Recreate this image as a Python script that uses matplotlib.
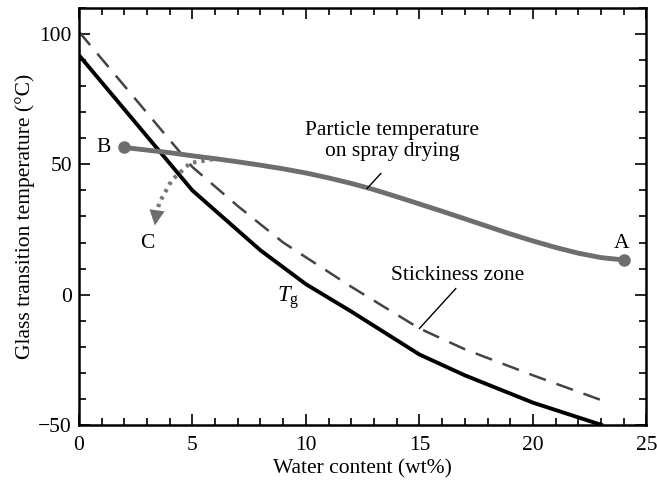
import numpy as np
import matplotlib
matplotlib.use("Agg")
import matplotlib.pyplot as plt
from matplotlib.ticker import MultipleLocator

plt.rcParams['font.family'] = ['Liberation Serif', 'DejaVu Serif']
plt.rcParams['mathtext.fontset'] = 'custom'
plt.rcParams['mathtext.it'] = 'Liberation Serif:italic'
plt.rcParams['mathtext.rm'] = 'Liberation Serif'

# glass transition curve (Tg)
tg_x = [0, 5, 8, 10, 12, 15, 17, 20, 23]
tg_y = [92, 40, 17, 4, -6.5, -23, -31, -41.5, -50]

# stickiness zone boundary (dashed)
st_x = [0, 5, 7, 9, 12, 15, 17, 20, 23]
st_y = [101, 49, 34, 20, 3, -13, -21, -31, -40.5]

# particle temperature on spray drying
pt_x = [2, 3, 4, 5, 6, 7, 8, 9, 10, 11, 12, 13, 14, 15, 16, 17, 18, 19,
        20, 21, 22, 23, 24]
pt_y = [56.5, 55.5, 54.5, 53.3, 52.2, 51, 49.7, 48.3, 46.7, 44.8, 42.7,
        40.3, 37.6, 34.8, 32, 29.1, 26.2, 23.3, 20.6, 18.1, 15.9, 14.2, 13.3]

# dotted path to C
dc_x = [5.9, 4.9, 4.1, 3.55, 3.42]
dc_y = [52, 50.5, 44, 35.4, 31]

fig = plt.figure(figsize=(6.57, 4.8), dpi=100)
ax = fig.add_axes([0.120, 0.115, 0.864, 0.868])

ax.plot(tg_x, tg_y, color='black', lw=2.8, solid_joinstyle='round')
ax.plot(st_x, st_y, color='#444444', lw=1.8, dashes=(7, 4.5))
ax.plot(pt_x, pt_y, color='#6e6e6e', lw=3.5, solid_capstyle='round')
ax.plot([pt_x[0], pt_x[-1]], [pt_y[0], pt_y[-1]], 'o', color='#6e6e6e', ms=8)

ax.plot(dc_x, dc_y, color='#777777', lw=3, ls=(0, (0.8, 1.2)))
ax.annotate('', xy=(3.33, 25.5), xytext=(3.42, 31),
            arrowprops=dict(arrowstyle='-|>,head_length=1.1,head_width=0.55',
                            color='#6e6e6e', lw=0))

fs = 15.5
ax.text(1.1, 56.5, 'B', fontsize=fs, ha='center', va='center')
ax.text(23.9, 19.5, 'A', fontsize=fs, ha='center', va='center')
ax.text(3.0, 19.5, 'C', fontsize=fs, ha='center', va='center')
ax.text(9.2, -1, r'$T_\mathrm{g}$', fontsize=fs + 1, ha='center', va='center')
ax.text(13.8, 59, 'Particle temperature\non spray drying', fontsize=fs,
        ha='center', va='center', linespacing=1.1)
ax.plot([13.3, 12.7], [46.5, 40.8], color='black', lw=1)
ax.text(16.7, 7.3, 'Stickiness zone', fontsize=fs, ha='center', va='center')
ax.plot([16.6, 15.0], [2.3, -13], color='black', lw=1)

ax.set_xlim(0, 25)
ax.set_ylim(-50, 110)
ax.set_xticks([0, 5, 10, 15, 20, 25])
ax.set_yticks([-50, 0, 50, 100])
ax.set_yticklabels(['\u221250', '0', '50', '100'])
ax.xaxis.set_minor_locator(MultipleLocator(1))
ax.yaxis.set_minor_locator(MultipleLocator(10))
ax.tick_params(which='both', direction='in', top=True, right=True,
               labelsize=fs, width=1.2)
ax.tick_params(which='major', length=8, pad=5)
ax.tick_params(axis='x', which='major', pad=8)
ax.tick_params(which='minor', length=5)
for s in ax.spines.values():
    s.set_linewidth(1.8)

ax.set_xlabel('Water content (wt%)', fontsize=fs, labelpad=3)
ax.set_ylabel('Glass transition temperature (\u00b0C)', fontsize=fs, labelpad=2)

fig.savefig('out.png', dpi=100)
